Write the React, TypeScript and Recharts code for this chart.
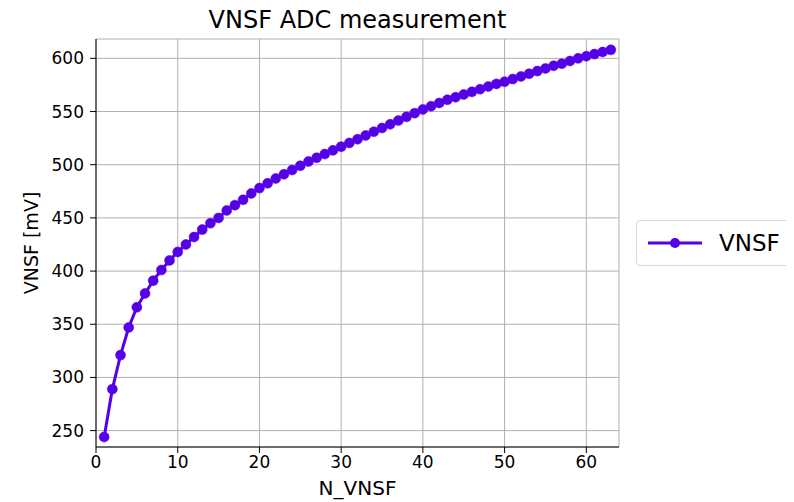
import React from "react";
import { LineChart, Line, XAxis, YAxis, CartesianGrid, Legend, Label } from "recharts";

const nValues = [
  1, 2, 3, 4, 5, 6, 7, 8, 9, 10, 11, 12, 13, 14, 15, 16, 17, 18, 19, 20, 21,
  22, 23, 24, 25, 26, 27, 28, 29, 30, 31, 32, 33, 34, 35, 36, 37, 38, 39, 40,
  41, 42, 43, 44, 45, 46, 47, 48, 49, 50, 51, 52, 53, 54, 55, 56, 57, 58, 59,
  60, 61, 62, 63,
];
const vnsfValues = [
  244, 289, 321, 347, 366, 379, 391, 401, 410, 418, 425, 432, 439, 445, 450,
  457, 462, 467, 473, 478, 482.5, 487, 491, 495, 499, 503, 506.5, 510, 513.5,
  517, 520.5, 524, 527.5, 531, 534.5, 538, 541.5, 545, 548.5, 552, 555, 558,
  561, 563.5, 566, 568.5, 571, 573.5, 576, 578, 580.5, 583, 585.5, 588, 590.5,
  593, 595, 597.5, 600, 602, 604, 606, 608,
];
const xTicks = [0, 10, 20, 30, 40, 50, 60];
const yTicks = [250, 300, 350, 400, 450, 500, 550, 600];

const data = nValues.map((n, i) => ({ n, vnsf: vnsfValues[i] }));

const COLOR = "#5500e6";
const FONT = "'DejaVu Sans', sans-serif";

const LegendContent = () => (
  <div
    style={{
      boxSizing: "border-box",
      width: 155,
      height: 46,
      border: "1px solid #d6d6d6",
      borderRadius: 4,
      background: "#fff",
      display: "flex",
      alignItems: "center",
      fontFamily: FONT,
      fontSize: 23,
      color: "#000",
    }}
  >
    <svg width={62} height={20} style={{ marginLeft: 8 }}>
      <line x1={3} y1={10} x2={57} y2={10} stroke={COLOR} strokeWidth={3} />
      <circle cx={30} cy={10} r={5} fill={COLOR} />
    </svg>
    <span style={{ marginLeft: 12 }}>VNSF</span>
  </div>
);

export default function App() {
  return (
    <div style={{ position: "relative", width: 786, height: 494 }}>
      <div
        style={{
          position: "absolute",
          left: 88,
          width: 523,
          top: -2,
          textAlign: "center",
          fontFamily: FONT,
          fontSize: 24,
          lineHeight: "28px",
          color: "#000",
          zIndex: 1,
        }}
      >
        VNSF ADC measurement
      </div>
      <LineChart
        width={786}
        height={494}
        data={data}
        margin={{ top: 31, right: 175, bottom: 25, left: 28 }}
      >
        <CartesianGrid stroke="#b0b0b0" strokeWidth={1} />
        <XAxis
          dataKey="n"
          type="number"
          domain={[0, 64]}
          ticks={xTicks}
          allowDataOverflow
          height={30}
          tickSize={6}
          tickMargin={3}
          stroke="#000"
          tick={{ fill: "#000", fontSize: 17, fontFamily: FONT }}
        >
          <Label
            value="N_VNSF"
            position="bottom"
            offset={4}
            style={{ fill: "#000", fontSize: 20, fontFamily: FONT }}
          />
        </XAxis>
        <XAxis
          xAxisId="top"
          orientation="top"
          dataKey="n"
          type="number"
          domain={[0, 64]}
          height={0}
          tick={false}
          tickLine={false}
          stroke="#000"
        />
        <YAxis
          type="number"
          domain={[234.6, 618.2]}
          ticks={yTicks}
          allowDataOverflow
          width={60}
          tickSize={6}
          tickMargin={6}
          stroke="#000"
          tick={{ fill: "#000", fontSize: 17, fontFamily: FONT }}
        >
          <Label
            value="VNSF [mV]"
            angle={-90}
            position="insideLeft"
            offset={-5}
            style={{ fill: "#000", fontSize: 19, fontFamily: FONT, textAnchor: "middle" }}
          />
        </YAxis>
        <YAxis
          yAxisId="right"
          orientation="right"
          type="number"
          domain={[234.6, 618.2]}
          width={0}
          tick={false}
          tickLine={false}
          stroke="#000"
        />
        <Legend
          layout="horizontal"
          align="center"
          verticalAlign="middle"
          content={<LegendContent />}
          wrapperStyle={{ left: 628, top: 212, width: 155, height: 46 }}
        />
        <Line
          type="linear"
          dataKey="vnsf"
          name="VNSF"
          stroke={COLOR}
          strokeWidth={3}
          dot={{ r: 5, fill: COLOR, stroke: COLOR, strokeWidth: 0.5 }}
          activeDot={false}
          isAnimationActive={false}
        />
      </LineChart>
    </div>
  );
}
